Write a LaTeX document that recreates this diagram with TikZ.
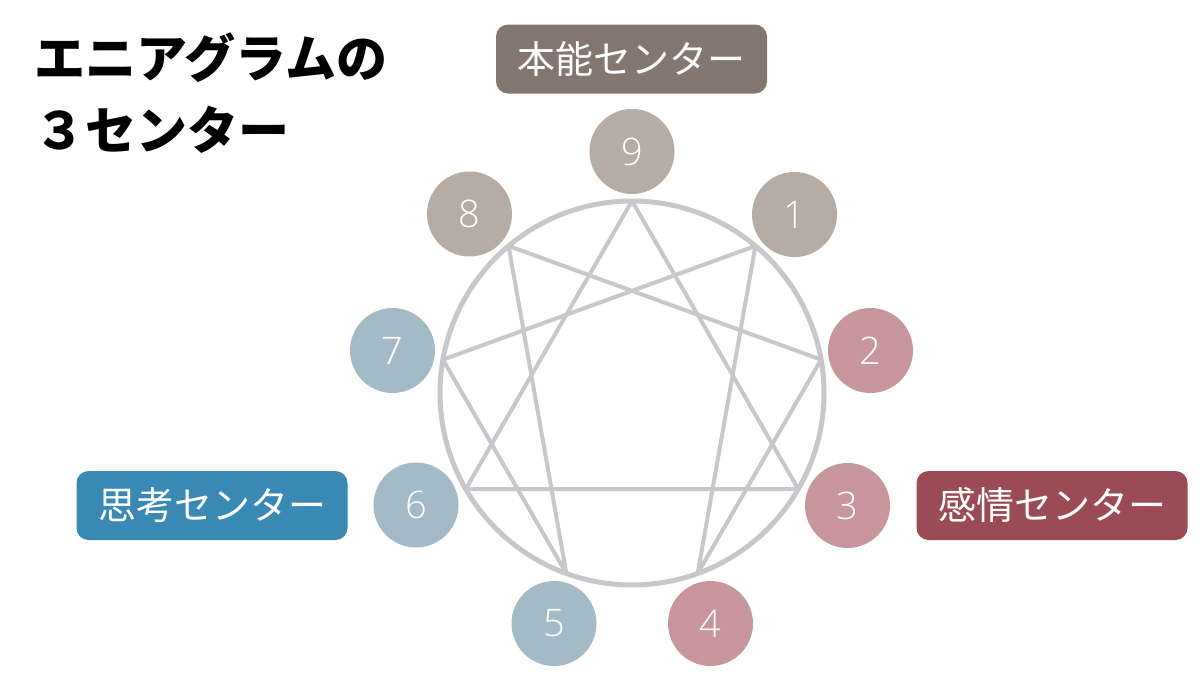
\documentclass[tikz,border=0pt]{standalone}
\usepackage{fontspec}
\IfFontExistsTF{Open Sans Light}{\setmainfont{Open Sans Light}}{\setmainfont{Open Sans}}
\newfontfamily\jp{Noto Sans CJK JP}
\definecolor{instc}{HTML}{B6ACA3}
\definecolor{thinkc}{HTML}{A3BAC7}
\definecolor{feelc}{HTML}{C8979D}
\definecolor{instbox}{HTML}{847671}
\definecolor{thinkbox}{HTML}{3A89B5}
\definecolor{feelbox}{HTML}{9B4B55}
\definecolor{linec}{HTML}{C6C8CC}
\tikzset{
  numdot/.style={circle, minimum size=85pt, inner sep=0pt, text=white,
    font=\fontsize{38}{40}\selectfont},
  centerbox/.style={rounded corners=12pt, minimum width=271pt, minimum height=69pt,
    inner sep=0pt, text=white, text height=33.4pt, text depth=4.6pt,
    font=\jp\fontsize{38}{40}\selectfont},
  titletext/.style={anchor=west, inner sep=0pt, text height=44.9pt, text depth=6.1pt,
    font=\jp\bfseries\fontsize{51}{53}\selectfont},
  ennea/.style={draw=linec, line width=4pt, line join=round, line cap=round},
}
\begin{document}
\begin{tikzpicture}[x=1pt,y=-1pt]
\useasboundingbox[fill=white] (0,0) rectangle (1200,675);
\coordinate (C) at (632,393);
\foreach \k in {1,...,9}{
  \coordinate (v\k) at ({632+192*cos(90-40*\k)},{393-192*sin(90-40*\k)});
}
\draw[draw=linec, line width=5pt] (C) circle[radius=192];
\draw[ennea] (v9) -- (v3) -- (v6) -- cycle;
\draw[ennea] (v1) -- (v4) -- (v2) -- (v8) -- (v5) -- (v7) -- cycle;
% number dots
\foreach \k/\c/\x/\y in {9/instc/632/151.5, 1/instc/794.5/214.5, 8/instc/469.5/214,
    2/feelc/870.5/350.5, 3/feelc/847.5/505.5, 4/feelc/710.5/623.5,
    5/thinkc/554/623.5, 6/thinkc/416/505, 7/thinkc/392.5/350.5}{
  \node[numdot, fill=\c] (n\k) at (\x,\y) {\k};
}
% center labels
\node[centerbox, fill=instbox] (inst) at (631.5,59) {本能センター};
\node[centerbox, fill=thinkbox] (think) at (212,505.5) {思考センター};
\node[centerbox, fill=feelbox] (feel) at (1052,505.5) {感情センター};
% title
\node[titletext] (t1) at (34,58.5) {エニアグラムの};
\node[titletext] (t2) at (34,130) {３センター};
\end{tikzpicture}
\end{document}
